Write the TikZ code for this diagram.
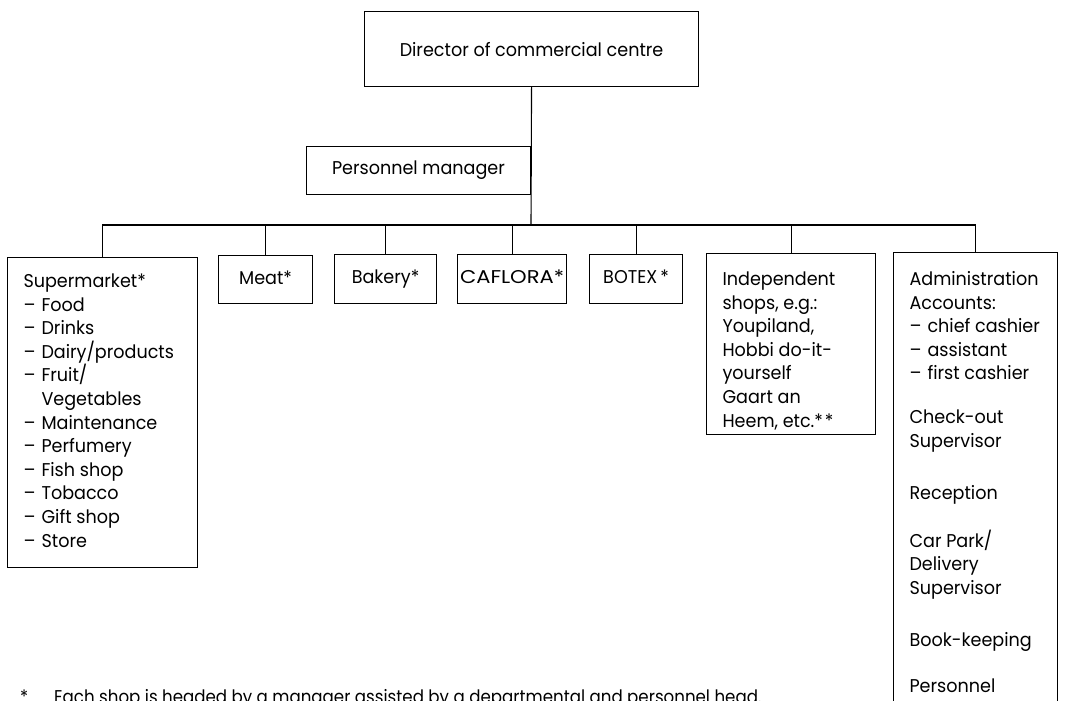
\documentclass[tikz,border=0pt]{standalone}
\usepackage{fontspec}
\usepackage{graphicx}
\setmainfont{Poppins}
\newfontfamily\chartfamily[FakeStretch=0.95]{Poppins}
\newfontfamily\notefamily[FakeStretch=0.9]{Poppins}
\newcommand{\chartfont}{\chartfamily\fontsize{18.5pt}{23.6pt}\selectfont}
\newcommand{\notefont}{\notefamily\fontsize{18.5pt}{23.6pt}\selectfont}
% a framed block of left-aligned lines: width, height, top-to-first-baseline, lines
\newcommand{\panel}[4]{%
  \vbox to #2{\hsize=#1\relax
    \parindent=0pt \leftskip=16pt \rightskip=0pt plus 1fil \parfillskip=0pt plus 1fil
    \hyphenpenalty=10000 \exhyphenpenalty=10000
    \vskip\dimexpr #3-\ht\strutbox\relax
    \strut #4\par\vss}}
\newcommand{\dashitem}[1]{\makebox[18pt][l]{\textendash}#1}
\begin{document}
\begin{tikzpicture}[x=1pt,y=-1pt,
  box/.style={draw, line width=1.1pt, inner sep=0pt, anchor=north west, font=\chartfont},
  unit/.style={box, text height=13.5pt, text depth=4pt},
  wire/.style={line width=1.1pt}]
\useasboundingbox (0,0) rectangle (1071,701);
\clip (0,0) rectangle (1071,701);
\fill[white] (0,0) rectangle (1071,701);

% top of the chart
\node[box, minimum width=334pt, minimum height=75pt] (director) at (364,11) {Director of commercial centre};
\node[box, anchor=north east, minimum width=224pt, minimum height=48pt] (personnel) at (531,146) {Personnel manager};
\coordinate (bus) at (531,225);

% departments
\node[box] (super) at (7,257) {\panel{190pt}{310pt}{30pt}{%
  Supermarket*\\
  \dashitem{Food}\\
  \dashitem{Drinks}\\
  \dashitem{Dairy/products}\\
  \dashitem{Fruit/}\\
  \hspace*{18pt}Vegetables\\
  \dashitem{Maintenance}\\
  \dashitem{Perfumery}\\
  \dashitem{Fish~shop}\\
  \dashitem{Tobacco}\\
  \dashitem{Gift~shop}\\
  \dashitem{Store}}};
\node[unit, minimum width=94pt, minimum height=48pt] (meat) at (218,255) {Meat*};
\node[unit, minimum width=102pt, minimum height=49pt] (bakery) at (334,254) {Bakery*};
\node[unit, minimum width=109pt, minimum height=49pt] (caflora) at (457,254) {\scalebox{1.2}[1]{CAFLORA*}};
\node[unit, minimum width=93pt, minimum height=49pt] (botex) at (589,254) {BOTEX\,*};
\node[box] (indep) at (706,253) {\panel{169pt}{181pt}{32pt}{%
  Independent\\
  shops,~e.g.:\\
  Youpiland,\\
  Hobbi~do-it-\\
  yourself\\
  Gaart~an\\
  Heem,~etc.*\kern2pt*}};
\node[box] (admin) at (893,252) {\panel{164pt}{470pt}{33pt}{%
  Administration\\
  Accounts:\\
  \dashitem{chief~cashier}\\
  \dashitem{assistant}\\
  \dashitem{first~cashier}\\[20pt]
  Check-out\\
  Supervisor\\[29pt]
  Reception\\[24pt]
  Car~Park/\\
  Delivery\\
  Supervisor\\[28pt]
  Book-keeping\\[23pt]
  Personnel}};

% connectors
\draw[wire] (director.south) -- (bus);
\draw[wire] (super.north) -- (super.north |- bus) -- (admin.north |- bus) -- (admin.north);
\foreach \n in {meat,bakery,caflora,botex,indep}
  \draw[wire] (\n.north) -- (\n.north |- bus);

% footnote
\node[font=\notefont, anchor=base west, inner sep=0pt] (note) at (20,703)
  {\makebox[34pt][l]{*}Each shop is headed by a manager assisted by a departmental and personnel head.};
\end{tikzpicture}
\end{document}
